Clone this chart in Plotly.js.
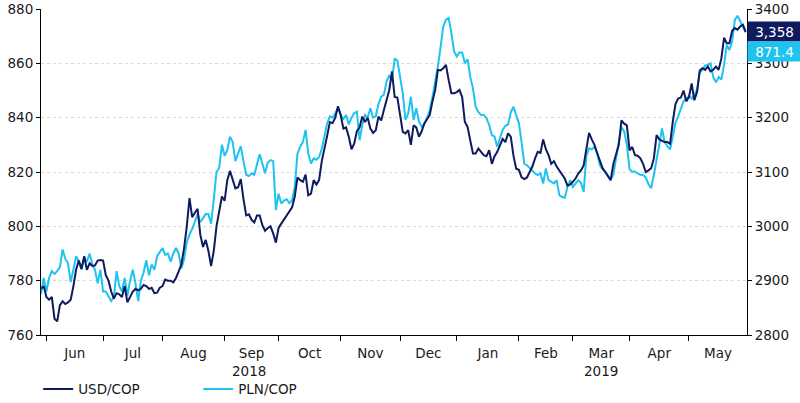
<!DOCTYPE html>
<html>
<head>
<meta charset="utf-8">
<script src="https://cdn.plot.ly/plotly-3.0.1.min.js"></script>
<style>html,body{margin:0;padding:0;background:#fff;}#chart{width:800px;height:403px;}</style>
</head>
<body>
<div id="chart"></div>
<script>
// Business days starting at this date (one value per weekday)
const startDate = '2018-05-30';

const seriesNames = ['USD/COP', 'PLN/COP'];

// USD/COP (right axis)
const usdCop = [
  2885,2890,2870,2865,2870,2830,2825,2855,2862,2857,
  2860,2865,2890,2920,2937,2922,2945,2920,2932,2927,
  2928,2937,2938,2937,2910,2900,2880,2867,2877,2875,
  2870,2890,2860,2870,2880,2885,2882,2885,2892,2890,
  2885,2887,2877,2878,2887,2890,2902,2900,2900,2897,
  2905,2917,2930,2960,3000,3052,3017,3025,3032,2985,
  2962,2975,2955,2927,2955,3000,3025,3055,3047,3085,
  3102,3085,3070,3072,3087,3050,3020,3022,3012,3007,
  3020,3020,3002,2992,2997,3000,2987,2970,2997,3005,
  3012,3020,3027,3035,3055,3090,3085,3082,3095,3057,
  3060,3085,3077,3085,3120,3147,3167,3192,3190,3200,
  3221,3205,3180,3182,3165,3142,3152,3175,3182,3202,
  3192,3200,3180,3172,3177,3202,3195,3214,3232,3251,
  3285,3238,3237,3208,3174,3171,3177,3150,3186,3182,
  3165,3175,3190,3197,3205,3230,3251,3288,3287,3291,
  3297,3269,3245,3245,3247,3251,3238,3192,3183,3158,
  3134,3134,3143,3137,3131,3129,3140,3115,3129,3137,
  3150,3161,3155,3171,3165,3130,3106,3104,3090,3087,
  3090,3100,3110,3125,3137,3135,3160,3142,3131,3115,
  3120,3110,3102,3095,3088,3075,3077,3082,3088,3097,
  3103,3112,3140,3172,3160,3150,3135,3120,3107,3100,
  3092,3085,3115,3131,3150,3195,3189,3186,3140,3146,
  3131,3130,3125,3115,3100,3103,3107,3125,3168,3160,
  3157,3155,3155,3152,3192,3225,3235,3237,3250,3230,
  3238,3263,3232,3247,3287,3291,3288,3294,3285,3288,
  3294,3288,3309,3347,3337,3337,3360,3365,3362,3368,
  3371,3358
];

// PLN/COP (left axis)
const plnCop = [
  775,781,776,781,783.5,782.5,783.5,785,791.5,788,
  786.5,779.5,784,789,787,784,788.5,787,790,786,
  784,779,784,776,776,774,772.5,774,783.5,778,
  776,781,774.5,780,784,779,772.5,780,783,787.5,
  782,786,784,789,790.5,792,789.5,790,787,790,
  792,790,784.5,788,794,797,799,802,804.5,801.5,
  803,804.5,804.5,801,810,820,821.5,830,826,828,
  833,831,824,826.5,829.5,824,819,818.5,819.5,819,
  822.5,826.5,823,819.5,823.5,824.4,824,806,812,808.4,
  809.5,810,808.5,809.6,814.6,826.8,829.3,831,835.5,826.8,
  823.1,825,824.5,825.5,828.5,833,837.9,840.5,840,841.6,
  843.5,841,839.5,841,837.5,840,841.6,842.2,831.7,837.5,
  841,840,843.5,840,840.5,845,847.7,848.5,853.3,855.7,
  853.5,861.8,861,855,849,839.2,841.5,847.7,839.2,843.5,
  838.5,836.7,837.5,840,842.8,847.7,852.7,858.8,866,873.6,
  876.1,876.7,871.1,864.4,862.5,864,864,860,861.5,855,
  850.8,844,842,841,841,839.8,837.3,833.6,833,829.3,
  832.5,835.5,837,837.5,842,844,841,838,831,823,
  822.5,821.5,820.7,819.5,818.9,819.5,815.8,821.3,817,816.5,
  815.8,817,811.5,810.8,810.5,814.5,817,814.5,815.8,817,
  816,812.7,826,828.7,828.3,829.3,826.8,822.5,821,820,
  818.5,817,819,825.5,831,836.5,835,830,821,820.1,
  820.1,819.5,819,818.9,818,815.5,814,819,824,830,
  836,831,829.5,828.3,833,838,840.5,843,846,847,
  848,847,848.4,850.5,856.5,857.6,859.2,859.4,860,855,
  853,855,854,859.4,866.8,864.9,868,876,877.5,875.5,
  873.5,871.4
];

const monthNames = ['Jan','Feb','Mar','Apr','May','Jun','Jul','Aug','Sep','Oct','Nov','Dec'];

// build weekday dates
function businessDays(start, n) {
  const out = [];
  const d = new Date(start + 'T00:00:00Z');
  while (out.length < n) {
    const wd = d.getUTCDay();
    if (wd !== 0 && wd !== 6) out.push(d.toISOString().slice(0, 10));
    d.setUTCDate(d.getUTCDate() + 1);
  }
  return out;
}
const dates = businessDays(startDate, usdCop.length);
const lastIdx = dates.length - 1;

// date at a fractional business-day index (weekends are broken out of the axis)
function dateAt(idx) {
  const i = Math.floor(idx), f = idx - i;
  if (f === 0) return dates[i];
  const h = Math.round(f * 24);
  return dates[i] + ' ' + String(h).padStart(2, '0') + ':00';
}

// month starts (first weekday of each month within the data)
const monthStartIdx = [];
for (let i = 1; i <= lastIdx; i++) {
  if (dates[i].slice(5, 7) !== dates[i - 1].slice(5, 7)) monthStartIdx.push(i);
}
const monthTickVals = monthStartIdx.map(i => dates[i]);
const monthLabelVals = [], monthLabelText = [];
monthStartIdx.forEach((s, k) => {
  const e = k + 1 < monthStartIdx.length ? monthStartIdx[k + 1] : lastIdx + 0.5;
  monthLabelVals.push(dateAt((s + e) / 2));
  monthLabelText.push(monthNames[parseInt(dates[s].slice(5, 7), 10) - 1]);
});

// year labels centered on each year's visible span
const yearStart = dates.findIndex(d => d.slice(0, 4) === '2019');
const yearLabels = [
  {text: '2018', x: dateAt((0 + yearStart) / 2)},
  {text: '2019', x: dateAt(Math.floor((yearStart + lastIdx + 0.5) / 2 * 2) / 2)}
];

const NAVY = '#0f1a5f';
const CYAN = '#1ec3ef';
const FONT = 'DejaVu Sans, Verdana, sans-serif';

const lastUsd = usdCop[lastIdx];
const lastPln = plnCop[lastIdx];

const traces = [
  {x: dates, y: usdCop, name: seriesNames[0], type: 'scatter', mode: 'lines',
   yaxis: 'y2', line: {color: NAVY, width: 2}},
  {x: dates, y: plnCop, name: seriesNames[1], type: 'scatter', mode: 'lines',
   yaxis: 'y', line: {color: CYAN, width: 2}}
];

const layout = {
  width: 800, height: 403,
  margin: {l: 41, r: 53, t: 9, b: 68, autoexpand: false},
  paper_bgcolor: '#fff', plot_bgcolor: '#fff',
  font: {family: FONT, size: 13.5, color: '#1a1a1a'},
  showlegend: true,
  xaxis: {
    type: 'date',
    range: [dates[0], dateAt(lastIdx + 0.5)],
    rangebreaks: [{bounds: ['sat', 'mon']}],
    tickmode: 'array', tickvals: monthLabelVals, ticktext: monthLabelText,
    ticks: '', ticklabelstandoff: 6,
    minor: {tickmode: 'array', tickvals: monthTickVals, ticks: 'outside', ticklen: 5,
            tickcolor: '#000', tickwidth: 1, showgrid: false},
    showline: true, linecolor: '#000', linewidth: 1,
    showgrid: false, zeroline: false
  },
  yaxis: {
    range: [760, 880], tick0: 760, dtick: 20,
    ticks: 'outside', ticklen: 4, tickcolor: '#000',
    showline: true, linecolor: '#000', linewidth: 1,
    showgrid: true, gridcolor: '#d9d9d9', griddash: 'dot', gridwidth: 1,
    zeroline: false
  },
  yaxis2: {
    overlaying: 'y', side: 'right',
    range: [2800, 3400], tick0: 2800, dtick: 100,
    ticks: 'outside', ticklen: 4, tickcolor: '#000',
    showline: true, linecolor: '#000', linewidth: 1,
    showgrid: false, zeroline: false
  },
  legend: {
    orientation: 'h', x: -0.004, xanchor: 'left', y: -0.166, yanchor: 'middle',
    entrywidth: 115, entrywidthmode: 'pixels',
    font: {family: FONT, size: 13.5, color: '#1a1a1a'},
    bgcolor: 'rgba(0,0,0,0)'
  },
  annotations: [
    {xref: 'x', yref: 'paper', x: yearLabels[0].x, y: -0.11, xanchor: 'center', yanchor: 'middle',
     text: yearLabels[0].text, showarrow: false},
    {xref: 'x', yref: 'paper', x: yearLabels[1].x, y: -0.11, xanchor: 'center', yanchor: 'middle',
     text: yearLabels[1].text, showarrow: false},
    {xref: 'paper', x: 1, xanchor: 'left', yref: 'y2', y: lastUsd, yanchor: 'middle',
     text: lastUsd.toLocaleString('en-US'), showarrow: false, bgcolor: NAVY,
     font: {color: '#fff', family: FONT, size: 13.5}, width: 49, height: 15, borderpad: 2, align: 'center'},
    {xref: 'paper', x: 1, xanchor: 'left', yref: 'y', y: lastPln, yanchor: 'middle', yshift: -19,
     text: lastPln.toFixed(1), showarrow: false, bgcolor: CYAN,
     font: {color: '#fff', family: FONT, size: 13.5}, width: 49, height: 15, borderpad: 2, align: 'center'}
  ]
};

Plotly.newPlot('chart', traces, layout, {displayModeBar: false, staticPlot: true});
</script>
</body>
</html>
